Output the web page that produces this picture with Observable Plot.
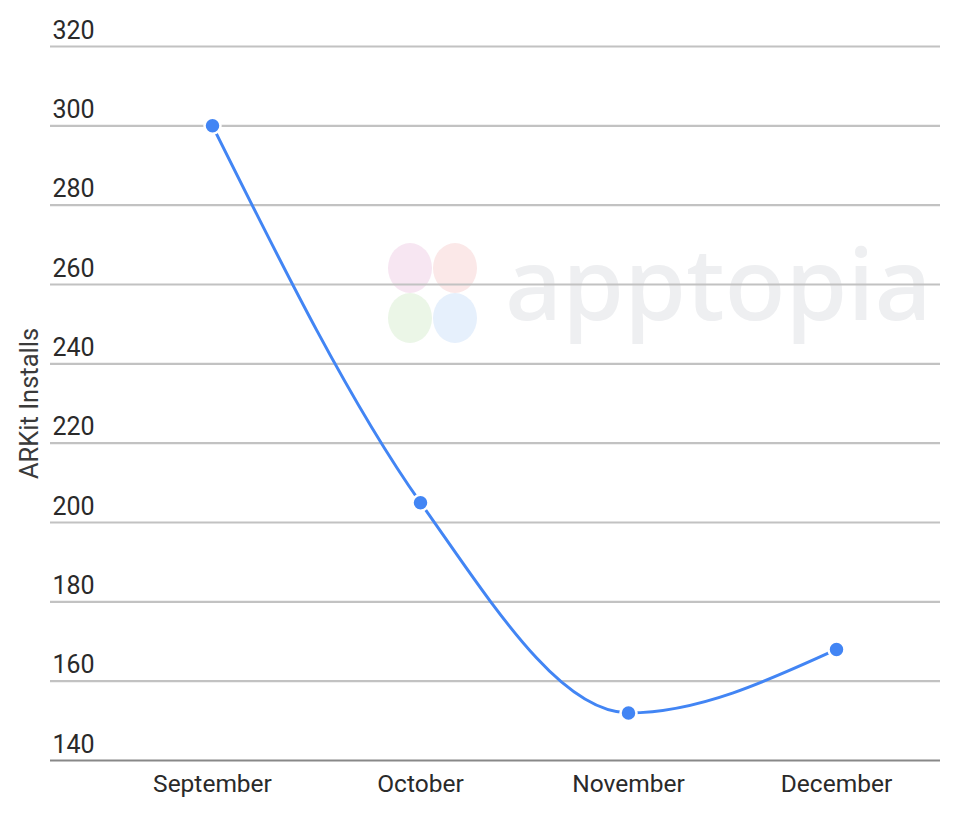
<!DOCTYPE html>
<html>
<head>
<meta charset="utf-8">
<script src="https://cdn.jsdelivr.net/npm/d3@7"></script>
<script src="https://cdn.jsdelivr.net/npm/@observablehq/plot@0.6"></script>
<style>
  html, body { margin: 0; padding: 0; background: #fff; }
  #chart svg { font-family: Roboto, "Noto Sans", sans-serif; }
</style>
</head>
<body>
<div id="chart"></div>
<script>
const months = ["September", "October", "November", "December"];
const installs = [300, 205, 152, 168];
const yTicks = [140, 160, 180, 200, 220, 240, 260, 280, 300, 320];
const yLabel = "ARKit Installs";
const watermark = "apptopia";

const data = months.map((m, i) => ({month: m, value: installs[i]}));

const plot = Plot.plot({
  width: 960,
  height: 817,
  marginLeft: 108,
  marginRight: 20,
  marginTop: 46,
  marginBottom: 57,
  style: {fontFamily: "Roboto, 'Noto Sans', sans-serif", background: "transparent"},
  x: {type: "point", domain: months, padding: 0.5, label: null},
  y: {domain: [140, 320], label: null},
  marks: [
    Plot.ruleY(yTicks.filter(d => d !== 140), {stroke: "#c2c2c2", strokeWidth: 2.2, insetLeft: -58}),
    Plot.ruleY([140], {stroke: "#888", strokeWidth: 2.2, insetLeft: -58}),
    Plot.axisY({ticks: yTicks, tickSize: 0, tickPadding: 0, textAnchor: "start", dx: -56, dy: -16, fontSize: 25, fill: "#2a2a2a", label: null}),
    Plot.axisX({tickSize: 0, tickPadding: 14, fontSize: 24.5, fill: "#2a2a2a", label: null}),
    Plot.text([yLabel], {frameAnchor: "left", dx: -79, rotate: -90, fontSize: 25.5, fill: "#3a3a3a", textAnchor: "middle"}),
    Plot.line(data, {x: "month", y: "value", stroke: "#4285f4", strokeWidth: 3, curve: "monotone-x"}),
    Plot.dot(data, {x: "month", y: "value", r: 8, fill: "#4285f4", stroke: "white", strokeWidth: 2.5})
  ]
});

// faint watermark behind everything
const svg = d3.select(plot);
const wm = svg.insert("g", ":first-child").attr("pointer-events", "none");
const blobs = [
  {cx: 410, cy: 268, c: "#f7e6f2"},
  {cx: 455, cy: 268, c: "#fbe8e8"},
  {cx: 410, cy: 318, c: "#ebf6e7"},
  {cx: 455, cy: 318, c: "#e6f0fc"}
];
blobs.forEach(b => wm.append("ellipse").attr("cx", b.cx).attr("cy", b.cy).attr("rx", 22).attr("ry", 25).attr("fill", b.c));
wm.append("text").attr("x", 505).attr("y", 320).attr("text-anchor", "start").attr("font-size", 100)
  .attr("font-family", "'Noto Sans', Lato, sans-serif")
  .attr("font-weight", 500).attr("fill", "#eeeff1").text(watermark);

document.getElementById("chart").append(plot);
</script>
</body>
</html>
